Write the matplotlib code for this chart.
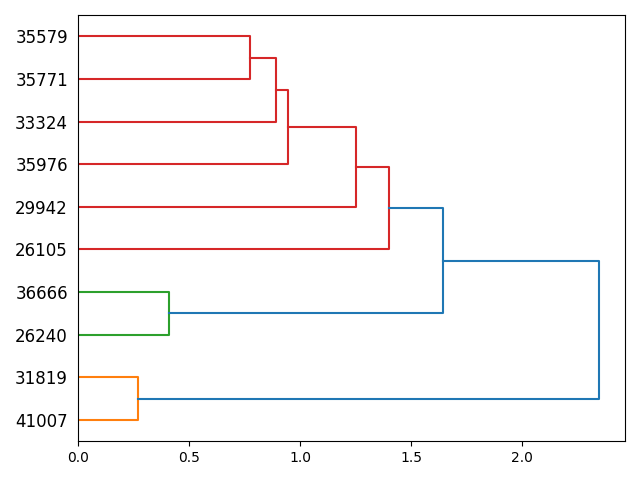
import matplotlib
matplotlib.use("Agg")
import matplotlib.pyplot as plt

# leaves, bottom to top (dendrogram leaf order)
leaves = ['41007', '31819', '26240', '36666', '26105',
          '29942', '35976', '33324', '35771', '35579']

# merges: (child a, child b, height, colour); children are leaf labels
# or indices of earlier merges ("m0", "m1", ...)
merges = [
    ('35579', '35771', 0.775, 'C3'),   # m0
    ('m0', '33324', 0.890, 'C3'),      # m1
    ('m1', '35976', 0.945, 'C3'),      # m2
    ('m2', '29942', 1.250, 'C3'),      # m3
    ('m3', '26105', 1.400, 'C3'),      # m4
    ('36666', '26240', 0.410, 'C2'),   # m5
    ('m4', 'm5', 1.645, 'C0'),         # m6
    ('31819', '41007', 0.270, 'C1'),   # m7
    ('m6', 'm7', 2.345, 'C0'),         # m8
]

# leaf positions like scipy: 5, 15, 25, ...
pos = {lab: (5 + 10 * i, 0.0) for i, lab in enumerate(leaves)}

fig, ax = plt.subplots(figsize=(6.4, 4.8), dpi=100)

for k, (a, b, h, col) in enumerate(merges):
    ya, xa = pos[a]
    yb, xb = pos[b]
    ax.plot([xa, h, h, xb], [ya, ya, yb, yb], color=col, linewidth=1.5)
    pos['m%d' % k] = ((ya + yb) / 2.0, h)

top = max(m[2] for m in merges)
ax.set_xlim(0, top * 1.05)
ax.set_ylim(0, 10 * len(leaves))
ax.set_yticks([5 + 10 * i for i in range(len(leaves))])
ax.set_yticklabels(leaves, fontsize=12)
for line in ax.get_yticklines():
    line.set_visible(False)

fig.tight_layout()
fig.savefig("out.png")
